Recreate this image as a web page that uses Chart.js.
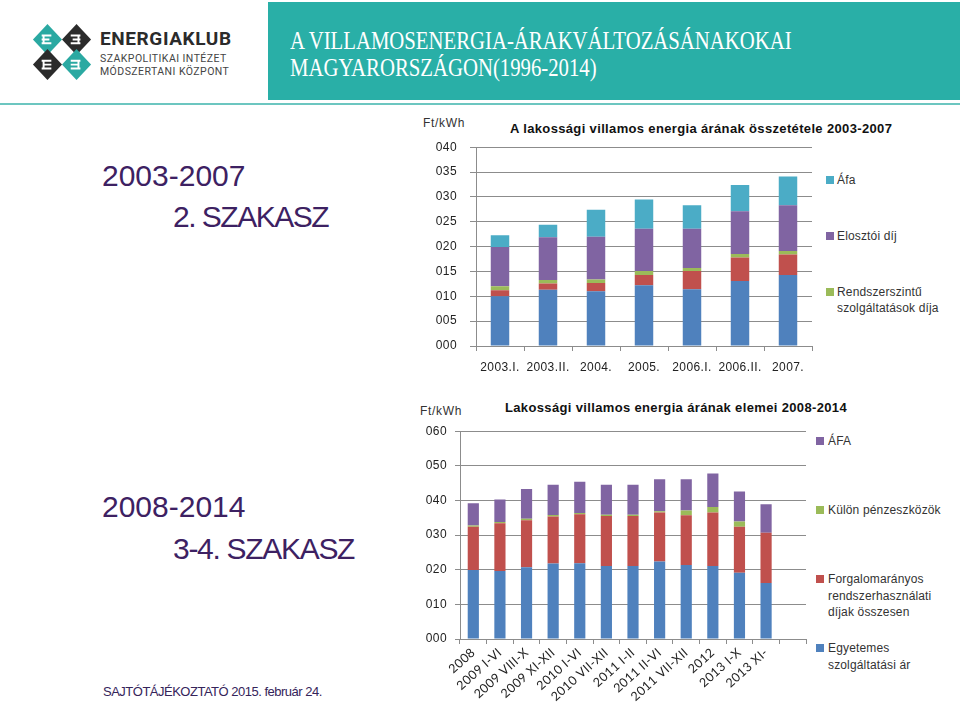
<!DOCTYPE html>
<html><head><meta charset="utf-8">
<script src="https://cdn.jsdelivr.net/npm/chart.js@4.4.0/dist/chart.umd.min.js"></script>
<style>
html,body{margin:0;padding:0}
body{width:960px;height:702px;overflow:hidden;background:#fff;position:relative;font-family:"Liberation Sans",Arial,sans-serif}
.a{position:absolute;white-space:nowrap}
.big{font-size:30px;line-height:30px;color:#3d2162}
.leg{font-size:12px;line-height:16px;color:#333;letter-spacing:0.15px}
.sq{position:absolute;width:8px;height:8px}
.ttl{font-size:13px;line-height:15px;font-weight:bold;color:#111;letter-spacing:0.35px}
canvas{position:absolute}
</style></head><body>

<!-- logo -->
<svg class="a" style="left:31px;top:22px" width="62" height="60" viewBox="0 0 64 60">
  <g>
    <polygon points="2,17 17,1 32,17 17,33" fill="#2aa9a2"/>
    <polygon points="32,17 47,1 62,17 47,33" fill="#2b2b2b"/>
    <polygon points="2,43 17,27 32,43 17,59" fill="#2b2b2b"/>
    <polygon points="32,43 47,27 62,43 47,59" fill="#2aa9a2"/>
    <g stroke="#fff" stroke-width="2" fill="none">
      <path d="M11,13 h10 M11,17 h8 M11,21 h10 M13,13 v8"/>
      <path d="M41,13 h10 M43,17 h8 M41,21 h10 M49,13 v8"/>
      <path d="M11,39 h10 M13,43 h8 M11,47 h10 M13,39 v8"/>
      <path d="M41,39 h10 M41,43 h8 M41,47 h10 M49,39 v8"/>
    </g>
  </g>
</svg>
<div class="a" style="left:100px;top:29px;font-family:Roboto,'DejaVu Sans',sans-serif;font-weight:bold;font-size:19px;line-height:20px;color:#2b2b2b;letter-spacing:0.6px">ENERGIAKLUB</div>
<div class="a" style="left:100px;top:52px;font-family:Roboto,'DejaVu Sans',sans-serif;font-size:10.5px;line-height:13px;color:#444;letter-spacing:0.45px">SZAKPOLITIKAI INTÉZET</div>
<div class="a" style="left:100px;top:65px;font-family:Roboto,'DejaVu Sans',sans-serif;font-size:10.5px;line-height:13px;color:#444;letter-spacing:0.45px">MÓDSZERTANI KÖZPONT</div>

<!-- title band -->
<div class="a" style="left:268px;top:2px;width:692px;height:98px;background:#29afa7"></div>
<div class="a" style="left:290px;top:27px;font-family:'Liberation Serif','DejaVu Serif',serif;font-size:25px;line-height:27px;color:#fff;transform:scaleX(0.83);transform-origin:0 0">A VILLAMOSENERGIA-ÁRAKVÁLTOZÁSÁNAKOKAI<br>MAGYARORSZÁGON(1996-2014)</div>
<div class="a" style="left:0;top:103px;width:960px;height:2px;background:#6cc6c0"></div>

<!-- left texts -->
<div class="a big" style="left:102px;top:161px">2003-2007</div>
<div class="a big" style="left:173px;top:202px;letter-spacing:-1.5px">2. SZAKASZ</div>
<div class="a big" style="left:102px;top:492px">2008-2014</div>
<div class="a big" style="left:173px;top:534px;letter-spacing:-1.3px">3-4. SZAKASZ</div>
<div class="a" style="left:103px;top:685px;font-size:13px;line-height:13px;color:#35245a;letter-spacing:-0.5px">SAJTÓTÁJÉKOZTATÓ 2015. február 24.</div>

<!-- chart 1 texts -->
<div class="a" style="left:423px;top:116px;font-size:12px;line-height:14px;color:#333;letter-spacing:0.7px">Ft/kWh</div>
<div class="a ttl" style="left:510px;top:121px">A lakossági villamos energia árának összetétele 2003-2007</div>
<canvas id="c1" width="400" height="256" style="left:415px;top:127px"></canvas>
<div class="sq" style="left:826px;top:176px;background:#4BACC6"></div>
<div class="a leg" style="left:837px;top:172px">Áfa</div>
<div class="sq" style="left:826px;top:232px;background:#8064A2"></div>
<div class="a leg" style="left:837px;top:228px">Elosztói díj</div>
<div class="sq" style="left:826px;top:288px;background:#9BBB59"></div>
<div class="a leg" style="left:837px;top:284px">Rendszerszintű<br>szolgáltatások díja</div>

<!-- chart 2 texts -->
<div class="a" style="left:420px;top:404px;font-size:12px;line-height:14px;color:#333;letter-spacing:0.7px">Ft/kWh</div>
<div class="a ttl" style="left:505px;top:400px">Lakossági villamos energia árának elemei 2008-2014</div>
<canvas id="c2" width="410" height="286" style="left:400px;top:416px"></canvas>
<div class="sq" style="left:816px;top:437px;background:#8064A2"></div>
<div class="a leg" style="left:828px;top:433px">ÁFA</div>
<div class="sq" style="left:816px;top:506px;background:#9BBB59"></div>
<div class="a leg" style="left:828px;top:502px">Külön pénzeszközök</div>
<div class="sq" style="left:816px;top:575px;background:#C0504D"></div>
<div class="a leg" style="left:828px;top:571px;line-height:16.5px">Forgalomarányos<br>rendszerhasználati<br>díjak összesen</div>
<div class="sq" style="left:816px;top:644px;background:#4F81BD"></div>
<div class="a leg" style="left:828px;top:640px;line-height:17px">Egyetemes<br>szolgáltatási ár</div>

<script>
// ---- data: chart 1 (2003-2007) ----
const cats1 = ['2003.I.','2003.II.','2004.','2005.','2006.I.','2006.II.','2007.'];
const energy1 = [10.0, 11.3, 11.0, 12.2, 11.4, 13.1, 14.3];
const transm1 = [1.2, 1.3, 1.7, 2.1, 3.7, 4.7, 4.1];
const system1 = [0.8, 0.7, 0.7, 0.8, 0.6, 0.7, 0.7];
const distrib1 = [7.9, 8.6, 8.6, 8.5, 7.9, 8.6, 9.2];
const vat1 = [2.4, 2.5, 5.4, 5.9, 4.7, 5.3, 5.8];
const ticks1 = {min:0, max:40, step:5};

// ---- data: chart 2 (2008-2014) ----
const cats2 = ['2008','2009 I-VI','2009 VIII-X','2009 XI-XII','2010 I-VI','2010 VII-XII','2011 I-II','2011 II-VI','2011 VII-XII','2012','2013 I-X','2013 XI-',''];
const univ2 = [19.9, 19.6, 20.7, 21.8, 21.9, 21.1, 21.1, 22.4, 21.4, 21.1, 19.1, 16.2];
const usage2 = [12.5, 13.8, 13.6, 13.6, 14.1, 14.4, 14.4, 14.1, 14.3, 15.4, 13.3, 14.5];
const sep2 = [0.4, 0.35, 0.4, 0.4, 0.35, 0.4, 0.4, 0.4, 1.4, 1.6, 1.5, 0];
const vat2 = [6.4, 6.5, 8.6, 8.75, 9.05, 8.65, 8.65, 9.2, 9.0, 9.7, 8.7, 8.2];
const ticks2 = {min:0, max:60, step:10};

const BLUE='#4F81BD', RED='#C0504D', GREEN='#9BBB59', PURPLE='#8064A2', CYAN='#4BACC6';
const GRID='#8c8c8c';
const fmt = v => String(v).padStart(3,'0');

function build(id, labels, sets, tk, o){
  return new Chart(document.getElementById(id), {
    type:'bar',
    data:{labels, datasets:sets.map(s=>({label:s[0], data:s[1], backgroundColor:s[2], borderWidth:0}))},
    options:{
      responsive:false, animation:false, devicePixelRatio:1,
      layout:{padding:o.pad},
      plugins:{legend:{display:false}, tooltip:{enabled:false}},
      datasets:{bar:{barPercentage:o.bar, categoryPercentage:1}},
      scales:{
        x:{stacked:true,
           grid:{drawOnChartArea:false, tickLength:5, color:GRID},
           border:{color:GRID},
           ticks:{autoSkip:false, minRotation:o.rot, maxRotation:o.rot, padding:o.xpad,
                  font:{family:o.xfont, size:o.xsize}, color:'#222'},
           afterFit:s=>{s.height=o.xh}},
        y:{stacked:true, min:tk.min, max:tk.max,
           grid:{color:GRID, tickLength:o.ytl},
           border:{color:GRID},
           ticks:{stepSize:tk.step, callback:fmt, padding:o.ypad,
                  font:{family:'Liberation Sans', size:12}, color:'#222'},
           afterFit:s=>{s.width=o.yw}}
      }
    },
    plugins:[{id:'ls', beforeDraw(c){ c.ctx.letterSpacing='0.4px'; }}]
  });
}

build('c1', cats1, [
  ['Energiaár', energy1, BLUE],
  ['Átviteli díj', transm1, RED],
  ['Rendszerszintű szolgáltatások díja', system1, GREEN],
  ['Elosztói díj', distrib1, PURPLE],
  ['Áfa', vat1, CYAN]
], ticks1, {pad:{top:9,right:3,left:0,bottom:0}, bar:0.385, rot:0, xpad:9, xfont:'Liberation Sans', xsize:12, xh:37, ytl:6, ypad:13, yw:61});

build('c2', cats2, [
  ['Egyetemes szolgáltatási ár', univ2, BLUE],
  ['Forgalomarányos rendszerhasználati díjak összesen', usage2, RED],
  ['Külön pénzeszközök', sep2, GREEN],
  ['ÁFA', vat2, PURPLE]
], ticks2, {pad:{top:9,right:4,left:0,bottom:0}, bar:0.42, rot:42, xpad:1, xfont:'Lato', xsize:12.5, xh:63, ytl:5, ypad:8, yw:60});
</script>
</body></html>
